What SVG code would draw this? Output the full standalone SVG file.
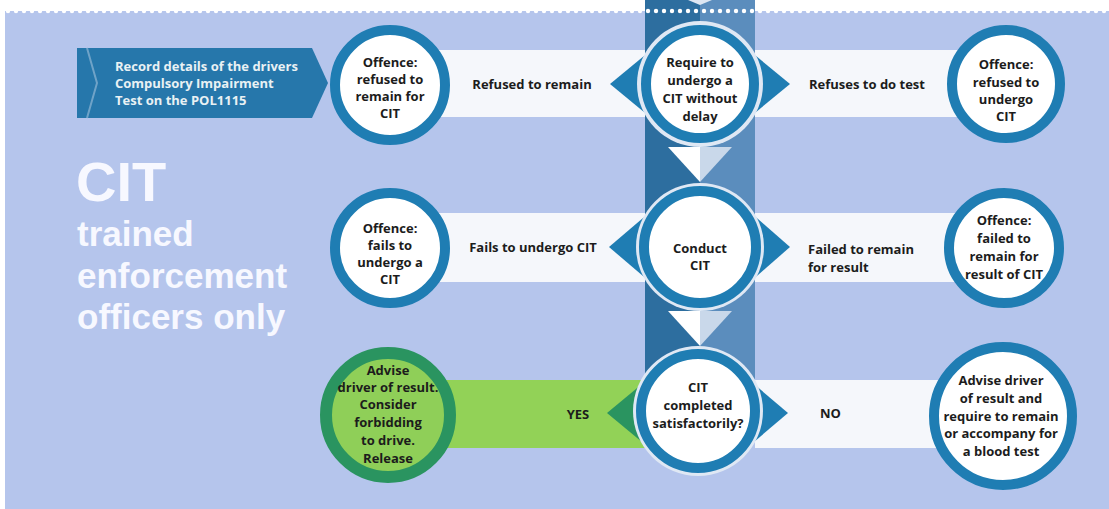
<svg xmlns="http://www.w3.org/2000/svg" width="1109" height="509" viewBox="0 0 1109 509">
<defs>
<style>
.t{font-family:"Open Sans","Liberation Sans",sans-serif;font-weight:700;font-size:13px;fill:#1c1c1c;text-anchor:middle}
.tl{text-anchor:start}
.big{font-family:"Liberation Sans","Arial",sans-serif;font-weight:700;fill:#f7f8ff}
.ban{font-family:"Open Sans","Liberation Sans",sans-serif;font-weight:700;font-size:13px;fill:#e9f1f4}
.band{fill:#f5f7fb}
.tri{fill:#1f7db3}
.ring{fill:#ffffff;stroke:#1f7db3;stroke-width:10}
.gap{fill:#dfe8f4}
.gring{fill:#8fcf58;stroke:#2a9460;stroke-width:12}
</style>
</defs>
<rect width="1109" height="509" fill="#ffffff"/>
<rect x="5" y="11" width="1104" height="498" fill="#b5c5ec"/>
<!-- central column -->
<rect x="645" y="0" width="55" height="411" fill="#2d6e9f"/>
<rect x="700" y="0" width="55" height="411" fill="#5b8dbd"/>
<polygon points="688,0 712,0 700,5" fill="#dde6f2"/>
<g id="perforation" fill="#ffffff">
<circle cx="8" cy="11" r="2.2"/><circle cx="16" cy="11" r="2.2"/><circle cx="24" cy="11" r="2.2"/><circle cx="32" cy="11" r="2.2"/><circle cx="40" cy="11" r="2.2"/><circle cx="48" cy="11" r="2.2"/><circle cx="56" cy="11" r="2.2"/><circle cx="64" cy="11" r="2.2"/><circle cx="72" cy="11" r="2.2"/><circle cx="80" cy="11" r="2.2"/><circle cx="88" cy="11" r="2.2"/><circle cx="96" cy="11" r="2.2"/><circle cx="104" cy="11" r="2.2"/><circle cx="112" cy="11" r="2.2"/><circle cx="120" cy="11" r="2.2"/><circle cx="128" cy="11" r="2.2"/><circle cx="136" cy="11" r="2.2"/><circle cx="144" cy="11" r="2.2"/><circle cx="152" cy="11" r="2.2"/><circle cx="160" cy="11" r="2.2"/><circle cx="168" cy="11" r="2.2"/><circle cx="176" cy="11" r="2.2"/><circle cx="184" cy="11" r="2.2"/><circle cx="192" cy="11" r="2.2"/><circle cx="200" cy="11" r="2.2"/><circle cx="208" cy="11" r="2.2"/><circle cx="216" cy="11" r="2.2"/><circle cx="224" cy="11" r="2.2"/><circle cx="232" cy="11" r="2.2"/><circle cx="240" cy="11" r="2.2"/><circle cx="248" cy="11" r="2.2"/><circle cx="256" cy="11" r="2.2"/><circle cx="264" cy="11" r="2.2"/><circle cx="272" cy="11" r="2.2"/><circle cx="280" cy="11" r="2.2"/><circle cx="288" cy="11" r="2.2"/><circle cx="296" cy="11" r="2.2"/><circle cx="304" cy="11" r="2.2"/><circle cx="312" cy="11" r="2.2"/><circle cx="320" cy="11" r="2.2"/><circle cx="328" cy="11" r="2.2"/><circle cx="336" cy="11" r="2.2"/><circle cx="344" cy="11" r="2.2"/><circle cx="352" cy="11" r="2.2"/><circle cx="360" cy="11" r="2.2"/><circle cx="368" cy="11" r="2.2"/><circle cx="376" cy="11" r="2.2"/><circle cx="384" cy="11" r="2.2"/><circle cx="392" cy="11" r="2.2"/><circle cx="400" cy="11" r="2.2"/><circle cx="408" cy="11" r="2.2"/><circle cx="416" cy="11" r="2.2"/><circle cx="424" cy="11" r="2.2"/><circle cx="432" cy="11" r="2.2"/><circle cx="440" cy="11" r="2.2"/><circle cx="448" cy="11" r="2.2"/><circle cx="456" cy="11" r="2.2"/><circle cx="464" cy="11" r="2.2"/><circle cx="472" cy="11" r="2.2"/><circle cx="480" cy="11" r="2.2"/><circle cx="488" cy="11" r="2.2"/><circle cx="496" cy="11" r="2.2"/><circle cx="504" cy="11" r="2.2"/><circle cx="512" cy="11" r="2.2"/><circle cx="520" cy="11" r="2.2"/><circle cx="528" cy="11" r="2.2"/><circle cx="536" cy="11" r="2.2"/><circle cx="544" cy="11" r="2.2"/><circle cx="552" cy="11" r="2.2"/><circle cx="560" cy="11" r="2.2"/><circle cx="568" cy="11" r="2.2"/><circle cx="576" cy="11" r="2.2"/><circle cx="584" cy="11" r="2.2"/><circle cx="592" cy="11" r="2.2"/><circle cx="600" cy="11" r="2.2"/><circle cx="608" cy="11" r="2.2"/><circle cx="616" cy="11" r="2.2"/><circle cx="624" cy="11" r="2.2"/><circle cx="632" cy="11" r="2.2"/><circle cx="640" cy="11" r="2.2"/><circle cx="648" cy="11" r="2.2"/><circle cx="656" cy="11" r="2.2"/><circle cx="664" cy="11" r="2.2"/><circle cx="672" cy="11" r="2.2"/><circle cx="680" cy="11" r="2.2"/><circle cx="688" cy="11" r="2.2"/><circle cx="696" cy="11" r="2.2"/><circle cx="704" cy="11" r="2.2"/><circle cx="712" cy="11" r="2.2"/><circle cx="720" cy="11" r="2.2"/><circle cx="728" cy="11" r="2.2"/><circle cx="736" cy="11" r="2.2"/><circle cx="744" cy="11" r="2.2"/><circle cx="752" cy="11" r="2.2"/><circle cx="760" cy="11" r="2.2"/><circle cx="768" cy="11" r="2.2"/><circle cx="776" cy="11" r="2.2"/><circle cx="784" cy="11" r="2.2"/><circle cx="792" cy="11" r="2.2"/><circle cx="800" cy="11" r="2.2"/><circle cx="808" cy="11" r="2.2"/><circle cx="816" cy="11" r="2.2"/><circle cx="824" cy="11" r="2.2"/><circle cx="832" cy="11" r="2.2"/><circle cx="840" cy="11" r="2.2"/><circle cx="848" cy="11" r="2.2"/><circle cx="856" cy="11" r="2.2"/><circle cx="864" cy="11" r="2.2"/><circle cx="872" cy="11" r="2.2"/><circle cx="880" cy="11" r="2.2"/><circle cx="888" cy="11" r="2.2"/><circle cx="896" cy="11" r="2.2"/><circle cx="904" cy="11" r="2.2"/><circle cx="912" cy="11" r="2.2"/><circle cx="920" cy="11" r="2.2"/><circle cx="928" cy="11" r="2.2"/><circle cx="936" cy="11" r="2.2"/><circle cx="944" cy="11" r="2.2"/><circle cx="952" cy="11" r="2.2"/><circle cx="960" cy="11" r="2.2"/><circle cx="968" cy="11" r="2.2"/><circle cx="976" cy="11" r="2.2"/><circle cx="984" cy="11" r="2.2"/><circle cx="992" cy="11" r="2.2"/><circle cx="1000" cy="11" r="2.2"/><circle cx="1008" cy="11" r="2.2"/><circle cx="1016" cy="11" r="2.2"/><circle cx="1024" cy="11" r="2.2"/><circle cx="1032" cy="11" r="2.2"/><circle cx="1040" cy="11" r="2.2"/><circle cx="1048" cy="11" r="2.2"/><circle cx="1056" cy="11" r="2.2"/><circle cx="1064" cy="11" r="2.2"/><circle cx="1072" cy="11" r="2.2"/><circle cx="1080" cy="11" r="2.2"/><circle cx="1088" cy="11" r="2.2"/><circle cx="1096" cy="11" r="2.2"/><circle cx="1104" cy="11" r="2.2"/>
</g>
<!-- title -->
<g id="title">
<text class="big" x="76" y="201" font-size="56">CIT</text>
<text class="big" x="77" y="246" font-size="35">trained</text>
<text class="big" x="77" y="288" font-size="35">enforcement</text>
<text class="big" x="77" y="329" font-size="35">officers only</text>
</g>
<!-- connectors -->
<g id="connectors">
<rect class="band" x="390" y="50" width="255" height="67"/>
<rect class="band" x="755" y="50" width="251" height="67"/>
<rect class="band" x="390" y="213" width="255" height="69"/>
<rect class="band" x="755" y="213" width="251" height="69"/>
<rect x="388" y="380" width="257" height="68" fill="#92d257"/>
<rect class="band" x="755" y="380" width="248" height="68"/>
<polygon class="tri" points="610,84 650,51 650,117"/>
<polygon class="tri" points="790,84 750,51 750,117"/>
<polygon class="tri" points="609,247 650,212 650,282"/>
<polygon class="tri" points="790,247 750,212 750,282"/>
<polygon points="607,413 648,379 648,447" fill="#2a9460"/>
<polygon class="tri" points="788,413 748,379 748,447"/>
<polygon points="668,147 700,147 700,182" fill="#ffffff"/>
<polygon points="700,147 732,147 700,182" fill="#c9d8ea"/>
<polygon points="668,311 700,311 700,346" fill="#ffffff"/>
<polygon points="700,311 732,311 700,346" fill="#c9d8ea"/>
<text class="t" x="532" y="89">Refused to remain</text>
<text class="t" x="867" y="89">Refuses to do test</text>
<text class="t" x="533" y="252">Fails to undergo CIT</text>
<text class="t tl" x="808" y="254">Failed to remain</text>
<text class="t tl" x="808" y="272">for result</text>
<text class="t" x="578" y="419">YES</text>
<text class="t tl" x="820" y="418">NO</text>
</g>
<!-- banner -->
<g id="record">
<polygon points="77,48 312,48 328,83 312,118 77,118" fill="#2677ab"/>
<polyline points="87,48 97,83 87,118" fill="none" stroke="#6fa3c8" stroke-width="2"/>
<text class="ban" x="115" y="71">Record details of the drivers</text>
<text class="ban" x="115" y="88">Compulsory Impairment</text>
<text class="ban" x="115" y="105">Test on the POL1115</text>
</g>
<g id="offence-remain">
<circle class="ring" cx="390" cy="85" r="55"/>
<text class="t" x="390" y="67">Offence:</text>
<text class="t" x="390" y="84">refused to</text>
<text class="t" x="390" y="101">remain for</text>
<text class="t" x="390" y="118">CIT</text>
</g>
<g id="require">
<circle class="gap" cx="700" cy="84" r="63"/>
<circle class="ring" cx="700" cy="84" r="54"/>
<text class="t" x="700" y="67">Require to</text>
<text class="t" x="700" y="85">undergo a</text>
<text class="t" x="700" y="103">CIT without</text>
<text class="t" x="700" y="121">delay</text>
</g>
<g id="offence-undergo">
<circle class="ring" cx="1006" cy="84" r="54"/>
<text class="t" x="1006" y="69">Offence:</text>
<text class="t" x="1006" y="87">refused to</text>
<text class="t" x="1006" y="104">undergo</text>
<text class="t" x="1006" y="121">CIT</text>
</g>
<g id="offence-fails">
<circle class="ring" cx="390" cy="248" r="55"/>
<text class="t" x="390" y="233">Offence:</text>
<text class="t" x="390" y="250">fails to</text>
<text class="t" x="390" y="267">undergo a</text>
<text class="t" x="390" y="284">CIT</text>
</g>
<g id="conduct">
<circle class="gap" cx="700" cy="247" r="64"/>
<circle class="ring" cx="700" cy="247" r="56"/>
<text class="t" x="700" y="253" font-size="14">Conduct</text>
<text class="t" x="700" y="270" font-size="14">CIT</text>
</g>
<g id="offence-failed">
<circle class="ring" cx="1004" cy="248" r="55"/>
<text class="t" x="1004" y="225">Offence:</text>
<text class="t" x="1004" y="243">failed to</text>
<text class="t" x="1004" y="261">remain for</text>
<text class="t" x="1004" y="279">result of CIT</text>
</g>
<g id="advise-release">
<circle class="gring" cx="388" cy="415" r="62"/>
<text class="t" x="388" y="375">Advise</text>
<text class="t" x="388" y="392">driver of result.</text>
<text class="t" x="388" y="409">Consider</text>
<text class="t" x="388" y="427">forbidding</text>
<text class="t" x="388" y="445">to drive.</text>
<text class="t" x="388" y="463">Release</text>
</g>
<g id="completed">
<circle class="gap" cx="698" cy="411" r="65"/>
<circle class="ring" cx="698" cy="411" r="57"/>
<text class="t" x="698" y="392">CIT</text>
<text class="t" x="698" y="410">completed</text>
<text class="t" x="698" y="428">satisfactorily?</text>
</g>
<g id="advise-blood">
<circle class="ring" cx="1003" cy="416" r="69"/>
<text class="t" x="1001" y="385">Advise driver</text>
<text class="t" x="1001" y="403">of result and</text>
<text class="t" x="1001" y="421">require to remain</text>
<text class="t" x="1001" y="438">or accompany for</text>
<text class="t" x="1001" y="456">a blood test</text>
</g>
</svg>
